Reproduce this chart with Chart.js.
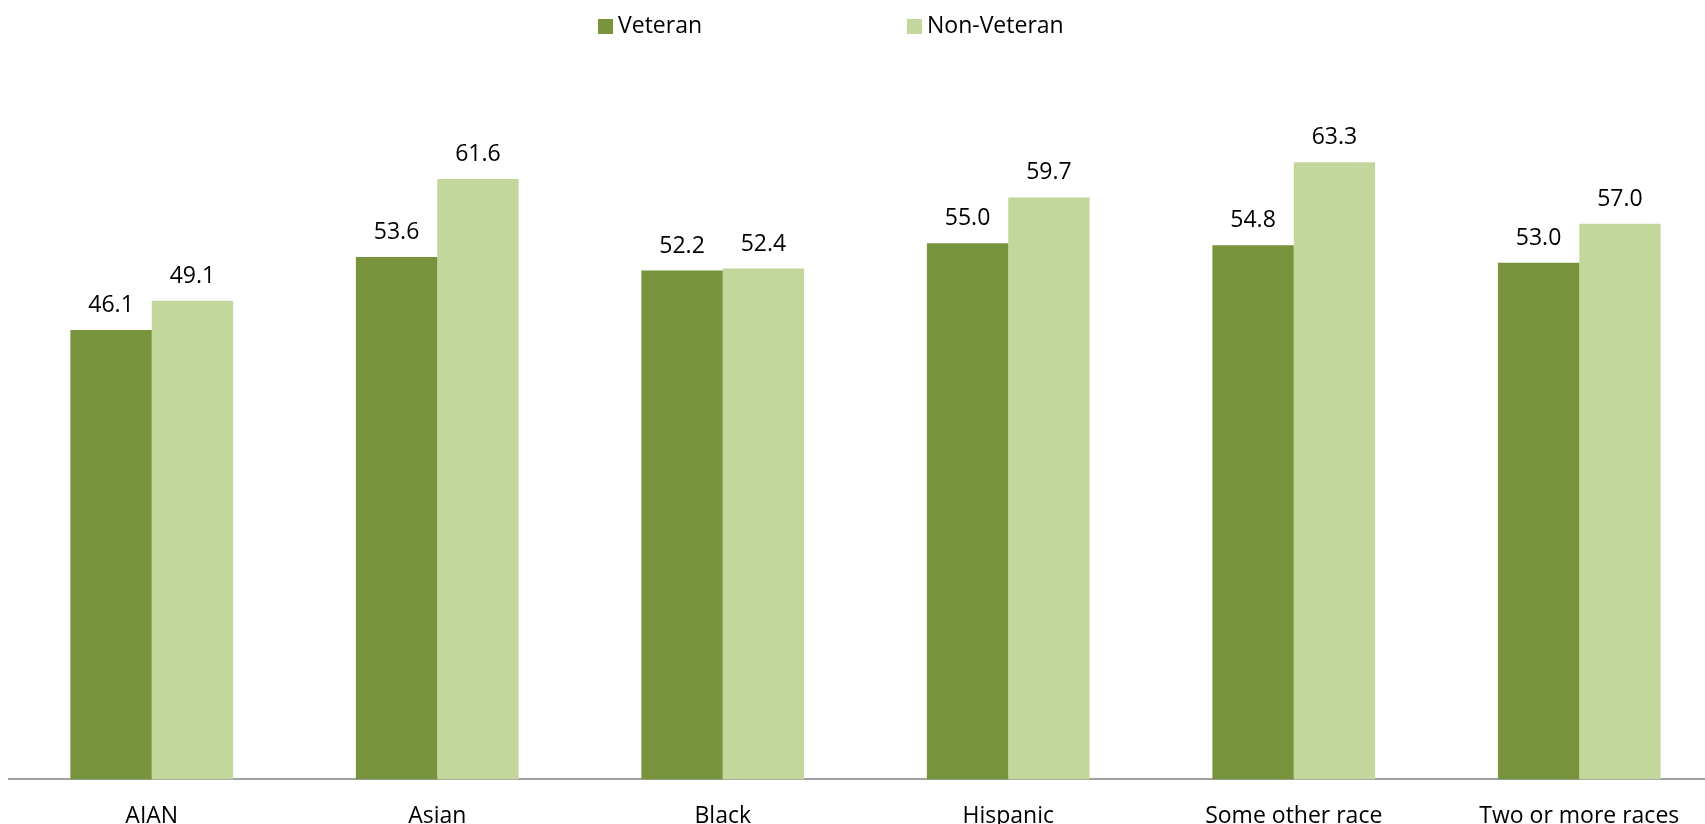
<!DOCTYPE html>
<html>
<head>
<meta charset="utf-8">
<script src="https://cdn.jsdelivr.net/npm/chart.js@4.4.0/dist/chart.umd.min.js"></script>
<style>
    html, body { margin: 0; padding: 0; background: #fff; overflow: hidden; }
    #wrap { position: relative; width: 1705px; height: 824px; overflow: hidden; }
    #legend { position: absolute; top: 0; left: 0; width: 1705px; height: 50px;
              font-family: "Open Sans", sans-serif; font-size: 23px; color: #000; }
    .item { position: absolute; top: 9px; line-height: 30px; white-space: nowrap; }
    .box { display: inline-block; width: 15px; height: 15px; margin-right: 5px; vertical-align: -1px; }
</style>
</head>
<body>
<div id="wrap">
    <!-- canvas a bit bigger than the window: the original plot runs past the right and bottom edges -->
    <canvas id="chart" width="1722" height="854"></canvas>
    <div id="legend"></div>
</div>
<script>
// Data
const categories = ['AIAN', 'Asian', 'Black', 'Hispanic', 'Some other race', 'Two or more races'];
const veteran = [46.1, 53.6, 52.2, 55.0, 54.8, 53.0];
const nonVeteran = [49.1, 61.6, 52.4, 59.7, 63.3, 57.0];
const seriesNames = ['Veteran', 'Non-Veteran'];
const seriesColors = ['#77933C', '#C3D69B'];

// Legend (html, placed like the original)
const legendLeft = [598, 907];
const legendEl = document.getElementById('legend');
seriesNames.forEach((name, i) => {
    const item = document.createElement('div');
    item.className = 'item';
    item.style.left = legendLeft[i] + 'px';
    item.innerHTML = `<span class="box" style="background:${seriesColors[i]}"></span>${name}`;
    legendEl.appendChild(item);
});

// Value labels above each bar
const valueLabels = {
    id: 'valueLabels',
    afterDatasetsDraw(chart) {
        const ctx = chart.ctx;
        ctx.save();
        ctx.font = '23px "Open Sans", sans-serif';
        ctx.fillStyle = '#000';
        ctx.textAlign = 'center';
        ctx.textBaseline = 'alphabetic';
        chart.data.datasets.forEach((ds, i) => {
            chart.getDatasetMeta(i).data.forEach((bar, j) => {
                ctx.fillText(ds.data[j].toFixed(1), bar.x, bar.y - 18);
            });
        });
        ctx.restore();
    }
};

const ctx = document.getElementById('chart').getContext('2d');
new Chart(ctx, {
    type: 'bar',
    data: {
        labels: categories,
        datasets: [
            { label: seriesNames[0], data: veteran, backgroundColor: seriesColors[0] },
            { label: seriesNames[1], data: nonVeteran, backgroundColor: seriesColors[1] }
        ]
    },
    options: {
        responsive: false,
        animation: false,
        layout: { padding: { top: 97, left: 9, right: 0, bottom: 0 } },
        datasets: { bar: { barPercentage: 1, categoryPercentage: 0.57 } },
        scales: {
            x: {
                grid: { display: false, drawTicks: false },
                border: { display: true, color: '#a0a0a0', width: 2 },
                ticks: {
                    color: '#000',
                    padding: 23.5,
                    maxRotation: 0,
                    autoSkip: false,
                    font: { family: '"Open Sans", sans-serif', size: 23 }
                }
            },
            y: { display: false, min: 0, max: 70 }
        },
        plugins: {
            legend: { display: false },
            tooltip: { enabled: false }
        }
    },
    plugins: [valueLabels]
});
</script>
</body>
</html>
